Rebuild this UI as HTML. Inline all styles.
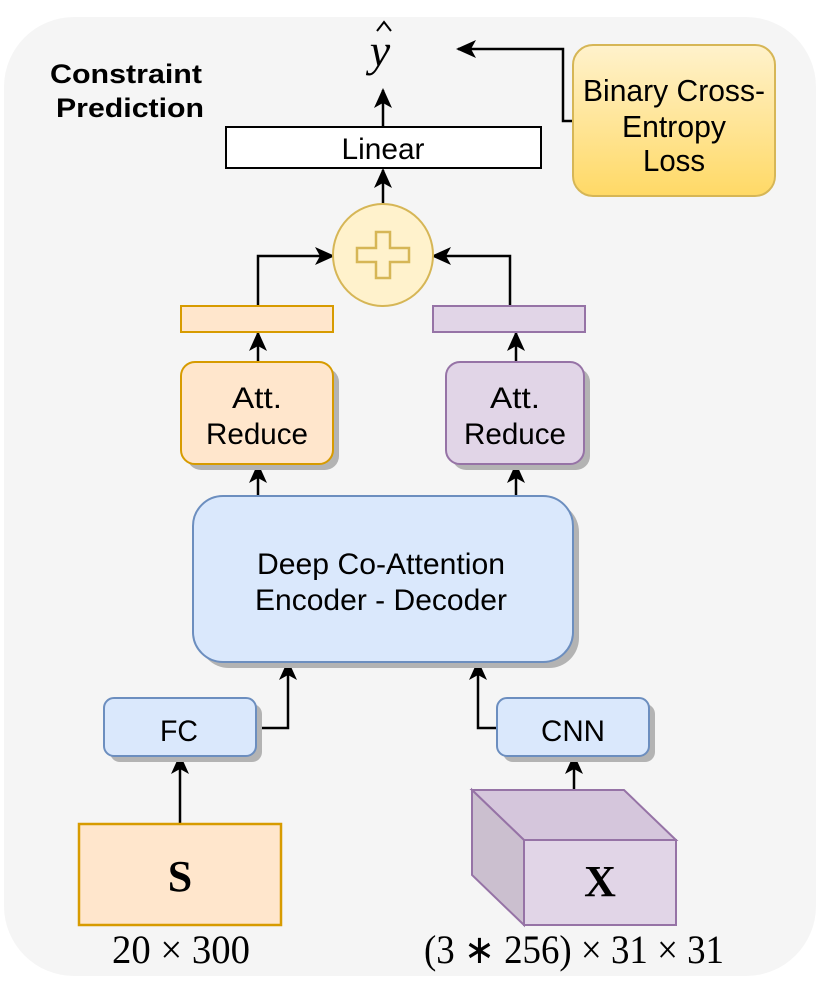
<!DOCTYPE html>
<html><head><style>body{margin:0;background:#fff}svg{display:block}</style></head><body>
<svg width="830" height="986" viewBox="0 0 830 986" xmlns="http://www.w3.org/2000/svg">
<defs>
<linearGradient id="g" x1="0" y1="0" x2="0" y2="1"><stop offset="0" stop-color="#fff2cc"/><stop offset="1" stop-color="#ffd966"/></linearGradient>
<marker id="a" markerWidth="20" markerHeight="20" refX="18" refY="10" orient="auto" markerUnits="userSpaceOnUse" viewBox="0 0 20 20"><path d="M0,1 L20,10 L0,19 L5,10 Z" fill="#000"/></marker>
</defs>
<rect x="4" y="17" width="812" height="959" rx="70" fill="#f5f5f5"/>
<g font-family="Liberation Sans, sans-serif" lengthAdjust="spacingAndGlyphs">
<text x="126" y="83" font-size="27" font-weight="bold" text-anchor="middle" textLength="152" lengthAdjust="spacingAndGlyphs">Constraint</text>
<text x="130" y="117" font-size="27" font-weight="bold" text-anchor="middle" textLength="148" lengthAdjust="spacingAndGlyphs">Prediction</text>
<text x="380" y="66" font-family="Liberation Serif, serif" font-style="italic" font-size="46" text-anchor="middle">y</text>
<path d="M377,31 L384,22 L391,31" fill="none" stroke="#000" stroke-width="2"/>
<g stroke="#000" stroke-width="2.5" fill="none">
<line x1="383" y1="127" x2="383" y2="90" marker-end="url(#a)"/>
<polyline points="573,121 563,121 563,49 458,49" marker-end="url(#a)"/>
<line x1="383" y1="204" x2="383" y2="170" marker-end="url(#a)"/>
<polyline points="258,306 258,256 333,256" marker-end="url(#a)"/>
<polyline points="510,306 510,256 433,256" marker-end="url(#a)"/>
<line x1="258" y1="362" x2="258" y2="333" marker-end="url(#a)"/>
<line x1="516" y1="362" x2="516" y2="333" marker-end="url(#a)"/>
<line x1="258" y1="496" x2="258" y2="465" marker-end="url(#a)"/>
<line x1="516" y1="496" x2="516" y2="465" marker-end="url(#a)"/>
<polyline points="256,728 288,728 288,662" marker-end="url(#a)"/>
<polyline points="497,728 478,728 478,662" marker-end="url(#a)"/>
<line x1="180" y1="824" x2="180" y2="756" marker-end="url(#a)"/>
<line x1="574" y1="790" x2="574" y2="756" marker-end="url(#a)"/>
</g>
<rect x="226" y="127" width="315" height="41" fill="#fff" stroke="#000" stroke-width="2"/>
<text x="383" y="159" font-size="30" text-anchor="middle" textLength="83" lengthAdjust="spacingAndGlyphs">Linear</text>
<rect x="573" y="45" width="202" height="151" rx="20" fill="url(#g)" stroke="#d6b656" stroke-width="2"/>
<text font-size="31" text-anchor="middle"><tspan x="674" y="101" textLength="182" lengthAdjust="spacingAndGlyphs">Binary Cross-</tspan><tspan x="674" y="137" textLength="104" lengthAdjust="spacingAndGlyphs">Entropy</tspan><tspan x="674" y="171" textLength="62" lengthAdjust="spacingAndGlyphs">Loss</tspan></text>
<ellipse cx="383" cy="255" rx="50" ry="51" fill="#fff2cc" stroke="#d6b656" stroke-width="2"/>
<path d="M376,232 h14 v16 h19 v14 h-19 v16 h-14 v-16 h-19 v-14 h19 Z" fill="none" stroke="#d6b656" stroke-width="2.5"/>
<rect x="181" y="306" width="152" height="26" fill="#ffe6cc" stroke="#d79b00" stroke-width="2"/>
<rect x="433" y="306" width="152" height="26" fill="#e1d5e7" stroke="#9673a6" stroke-width="2"/>
<rect x="187" y="368" width="152" height="102" rx="14" fill="#b3b3b3"/>
<rect x="181" y="362" width="152" height="102" rx="14" fill="#ffe6cc" stroke="#d79b00" stroke-width="2"/>
<text font-size="30" text-anchor="middle"><tspan x="257" y="408" textLength="50" lengthAdjust="spacingAndGlyphs">Att.</tspan><tspan x="257" y="444" textLength="102" lengthAdjust="spacingAndGlyphs">Reduce</tspan></text>
<rect x="452" y="368" width="138" height="102" rx="14" fill="#b3b3b3"/>
<rect x="446" y="362" width="138" height="102" rx="14" fill="#e1d5e7" stroke="#9673a6" stroke-width="2"/>
<text font-size="30" text-anchor="middle"><tspan x="515" y="408" textLength="50" lengthAdjust="spacingAndGlyphs">Att.</tspan><tspan x="515" y="444" textLength="102" lengthAdjust="spacingAndGlyphs">Reduce</tspan></text>
<rect x="199" y="502" width="380" height="166" rx="30" fill="#b3b3b3"/>
<rect x="193" y="496" width="380" height="166" rx="30" fill="#dae8fc" stroke="#6c8ebf" stroke-width="2"/>
<text font-size="30" text-anchor="middle"><tspan x="381" y="574" textLength="248" lengthAdjust="spacingAndGlyphs">Deep Co-Attention</tspan><tspan x="381" y="610" textLength="252" lengthAdjust="spacingAndGlyphs">Encoder - Decoder</tspan></text>
<rect x="110" y="704" width="152" height="58" rx="10" fill="#b3b3b3"/>
<rect x="104" y="698" width="152" height="58" rx="10" fill="#dae8fc" stroke="#6c8ebf" stroke-width="2"/>
<text x="179" y="741" font-size="30" text-anchor="middle" textLength="38" lengthAdjust="spacingAndGlyphs">FC</text>
<rect x="503" y="704" width="152" height="58" rx="10" fill="#b3b3b3"/>
<rect x="497" y="698" width="152" height="58" rx="10" fill="#dae8fc" stroke="#6c8ebf" stroke-width="2"/>
<text x="573" y="741" font-size="30" text-anchor="middle" textLength="64" lengthAdjust="spacingAndGlyphs">CNN</text>
<rect x="79" y="824" width="202" height="101" fill="#ffe6cc" stroke="#d79b00" stroke-width="2.5"/>
<text x="180" y="891" font-family="Liberation Serif, serif" font-weight="bold" font-size="44" text-anchor="middle">S</text>
<path d="M472,790 L624,790 L676,840 L524,840 Z" fill="#d5c6dc" stroke="#9673a6" stroke-width="2"/>
<path d="M472,790 L524,840 L524,925 L472,875 Z" fill="#cbbfcf" stroke="#9673a6" stroke-width="2"/>
<rect x="524" y="840" width="152" height="85" fill="#e1d5e7" stroke="#9673a6" stroke-width="2"/>
<text x="600" y="896" font-family="Liberation Serif, serif" font-weight="bold" font-size="44" text-anchor="middle">X</text>
<text x="181" y="963" font-family="Liberation Serif, serif" font-size="40" text-anchor="middle" textLength="138" lengthAdjust="spacingAndGlyphs">20 × 300</text>
<text x="574" y="963" font-family="Liberation Serif, serif" font-size="40" text-anchor="middle" textLength="300" lengthAdjust="spacingAndGlyphs">(3 ∗ 256) × 31 × 31</text>
</g>
</svg>
</body></html>
